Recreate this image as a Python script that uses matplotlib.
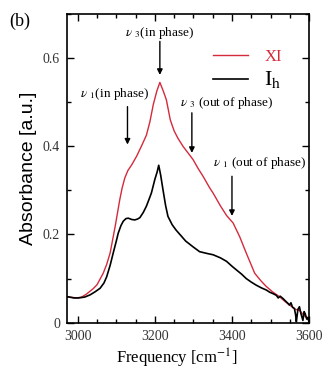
import numpy as np
import matplotlib
matplotlib.use('Agg')
import matplotlib.pyplot as plt
from matplotlib.ticker import MultipleLocator

# spectra (frequency in cm^-1, absorbance in a.u.)
xi_freq = [2972, 2997, 3010, 3023, 3040, 3050, 3066, 3075, 3084, 3097, 3109, 3115,
           3122, 3130, 3140, 3153, 3165, 3178, 3187, 3196, 3205, 3213, 3222, 3230,
           3240, 3250, 3260, 3273, 3286, 3299, 3312, 3325, 3342, 3351, 3370, 3386,
           3403, 3420, 3437, 3459, 3475, 3489, 3505, 3523, 3535, 3549, 3556, 3565,
           3575, 3585, 3595, 3600]
xi_abs = [0.059, 0.056, 0.058, 0.065, 0.077, 0.086, 0.112, 0.132, 0.158, 0.218, 0.279, 0.305,
          0.328, 0.345, 0.358, 0.378, 0.400, 0.425, 0.455, 0.495, 0.525, 0.545, 0.525, 0.505,
          0.460, 0.435, 0.418, 0.400, 0.385, 0.370, 0.350, 0.332, 0.306, 0.294, 0.265, 0.243,
          0.226, 0.195, 0.158, 0.112, 0.095, 0.082, 0.070, 0.059, 0.050, 0.040, 0.036, 0.030,
          0.028, 0.018, 0.010, 0.005]

ih_freq = [2972, 2990, 3002, 3018, 3032, 3045, 3058, 3068, 3075, 3084, 3092, 3100,
           3105, 3112, 3118, 3125, 3131, 3140, 3148, 3155, 3161, 3170, 3178, 3185,
           3191, 3200, 3206, 3210, 3215, 3221, 3228, 3234, 3245, 3255, 3265, 3280,
           3299, 3316, 3335, 3351, 3370, 3386, 3400, 3411, 3425, 3437, 3450, 3463,
           3476, 3489, 3498, 3506, 3515, 3520, 3525, 3532, 3540, 3545, 3549, 3553,
           3557, 3562, 3565, 3567, 3571, 3575, 3579, 3584, 3587, 3590, 3594, 3597, 3600]
ih_abs = [0.059, 0.056, 0.056, 0.058, 0.063, 0.070, 0.078, 0.090, 0.104, 0.130, 0.158, 0.185,
          0.203, 0.220, 0.230, 0.236, 0.237, 0.234, 0.233, 0.235, 0.238, 0.250, 0.264, 0.280,
          0.294, 0.325, 0.342, 0.357, 0.335, 0.302, 0.265, 0.241, 0.222, 0.210, 0.200, 0.185,
          0.172, 0.161, 0.157, 0.154, 0.147, 0.139, 0.128, 0.120, 0.110, 0.100, 0.092, 0.085,
          0.079, 0.074, 0.069, 0.066, 0.062, 0.056, 0.060, 0.055, 0.048, 0.044, 0.040, 0.045,
          0.035, 0.032, 0.018, 0.002, 0.030, 0.036, 0.020, 0.005, 0.025, 0.020, 0.008, 0.012, 0.0]

# mode labels: (text, text x, text y, arrow x, arrow start y, arrow tip y)
modes = [
    (r"$\nu$ $_3$(in phase)", 3213, 0.658, 3213, 0.638, 0.562),
    (r"$\nu$ $_1$(in phase)", 3096, 0.518, 3129, 0.490, 0.404),
    (r"$\nu$ $_3$ (out of phase)", 3385, 0.498, 3296, 0.476, 0.385),
    (r"$\nu$ $_1$ (out of phase)", 3472, 0.362, 3400, 0.332, 0.242),
]

red = '#d42a3c'
serif = 'Liberation Serif'
plt.rcParams['mathtext.fontset'] = 'stix'

fig = plt.figure(figsize=(3.25, 3.7), dpi=100)
ax = fig.add_axes([0.206, 0.128, 0.745, 0.834])

ax.plot(xi_freq, xi_abs, color=red, lw=1.0, label='XI')
ax.plot(ih_freq, ih_abs, color='black', lw=1.2, label=r'I$_{\mathrm{h}}$')

ax.set_xlim(2972, 3600)
ax.set_ylim(0, 0.7)
ax.xaxis.set_major_locator(MultipleLocator(200))
ax.xaxis.set_minor_locator(MultipleLocator(50))
ax.yaxis.set_major_locator(MultipleLocator(0.2))
ax.yaxis.set_minor_locator(MultipleLocator(0.1))
ax.tick_params(which='both', direction='in', top=True, right=True, width=1.0)
ax.tick_params(which='major', length=5, labelsize=10, pad=5)
ax.tick_params(which='minor', length=3)
ax.set_yticks([0, 0.2, 0.4, 0.6])
ax.set_yticklabels(['0', '0.2', '0.4', '0.6'])
for lab in ax.get_xticklabels() + ax.get_yticklabels():
    lab.set_family(serif)
    lab.set_color('#333333')
for sp in ax.spines.values():
    sp.set_linewidth(1.2)

ax.set_xlabel('Frequency [cm$^{\\mathrm{-1}}$]', family=serif, fontsize=12, labelpad=4)
ax.xaxis.set_label_coords(0.455, -0.078)
ax.set_ylabel('Absorbance [a.u.]', family='Liberation Sans', fontsize=14, labelpad=4)

for txt, tx, ty, xa, y0, y1 in modes:
    ax.annotate('', xy=(xa, y1), xytext=(xa, y0),
                arrowprops=dict(arrowstyle='-|>', color='black', lw=1.0,
                                mutation_scale=8, shrinkA=0, shrinkB=0))
    ax.text(tx, ty, txt, family=serif, fontsize=9.5, ha='center', va='center')

leg = ax.legend(loc='upper right', bbox_to_anchor=(0.95, 0.935), frameon=False,
                handlelength=2.1, handletextpad=1.0, labelspacing=0.25,
                prop={'family': serif, 'size': 12})
texts = leg.get_texts()
texts[0].set_color(red)
texts[1].set_fontsize(16)

fig.text(0.03, 0.93, '(b)', family=serif, fontsize=13)

fig.savefig('out.png', dpi=100)
